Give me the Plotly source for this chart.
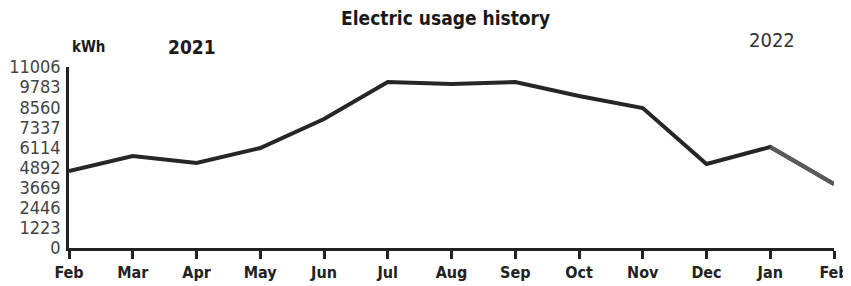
import plotly.graph_objects as go

months = ["Feb", "Mar", "Apr", "May", "Jun", "Jul", "Aug", "Sep", "Oct", "Nov", "Dec", "Jan", "Feb"]
usage_kwh = [4680, 5590, 5170, 6080, 7840, 10090, 9970, 10090, 9240, 8510, 5110, 6140, 3890]
y_ticks = [0, 1223, 2446, 3669, 4892, 6114, 7337, 8560, 9783, 11006]

xs = list(range(len(months)))
FONT = "Liberation Sans Narrow, DejaVu Sans Condensed, Arial Narrow, sans-serif"

# page body has an 8px margin; figure placed at (8, 8) on screen
OFF = 8
W, H = 851 - OFF, 286 - OFF
L, T = 69 - OFF, 67 - OFF
R = W - (834 - OFF)
B = H - (248 - OFF)

fig = go.Figure()
fig.add_trace(go.Scatter(x=xs, y=usage_kwh, mode="lines",
                         line=dict(color="#262626", width=4), hoverinfo="skip"))
# last segment appears lighter in the reference
fig.add_trace(go.Scatter(x=xs[-2:], y=usage_kwh[-2:], mode="lines",
                         line=dict(color="#5a5a5a", width=4), hoverinfo="skip"))

fig.update_layout(
    width=W, height=H,
    margin=dict(l=L, r=R, t=T, b=B, autoexpand=False),
    paper_bgcolor="white", plot_bgcolor="white",
    showlegend=False,
    font=dict(family=FONT, color="#222"),
    xaxis=dict(range=[0, len(months) - 1], tickmode="array", tickvals=xs, ticktext=months,
               automargin=False, ticklabeloverflow="allow",
               showgrid=False, zeroline=False, showline=True, linecolor="#222", linewidth=2.5,
               ticks="outside", ticklen=8, tickwidth=2.5, tickcolor="#222",
               tickfont=dict(family=FONT, size=16, color="#222", weight="bold")),
    yaxis=dict(range=[0, 11006], tickmode="array", tickvals=y_ticks,
               ticktext=[str(v) for v in y_ticks], automargin=False,
               showgrid=False, zeroline=False, showline=True, linecolor="#222", linewidth=2.5,
               ticks="", ticklabelstandoff=2,
               tickfont=dict(family=FONT, size=18, color="#444")),
)

pw = W - L - R
ph = H - T - B


def px_note(text, x, y, size, color, bold=False):
    # x, y are screen pixel positions
    fig.add_annotation(text=f"<b>{text}</b>" if bold else text,
                       x=(x - OFF - L) / pw, y=(H - B - (y - OFF)) / ph, xref="paper", yref="paper",
                       showarrow=False, xanchor="center", yanchor="middle",
                       font=dict(family=FONT, size=size, color=color))


px_note("Electric usage history", 445, 18, 19, "#1a1a1a", bold=True)
px_note("kWh", 88, 47, 15, "#1a1a1a", bold=True)
px_note("2021", 192, 47, 19, "#1a1a1a", bold=True)
px_note("2022", 772, 40, 20, "#333")

fig.write_html("out.html")
